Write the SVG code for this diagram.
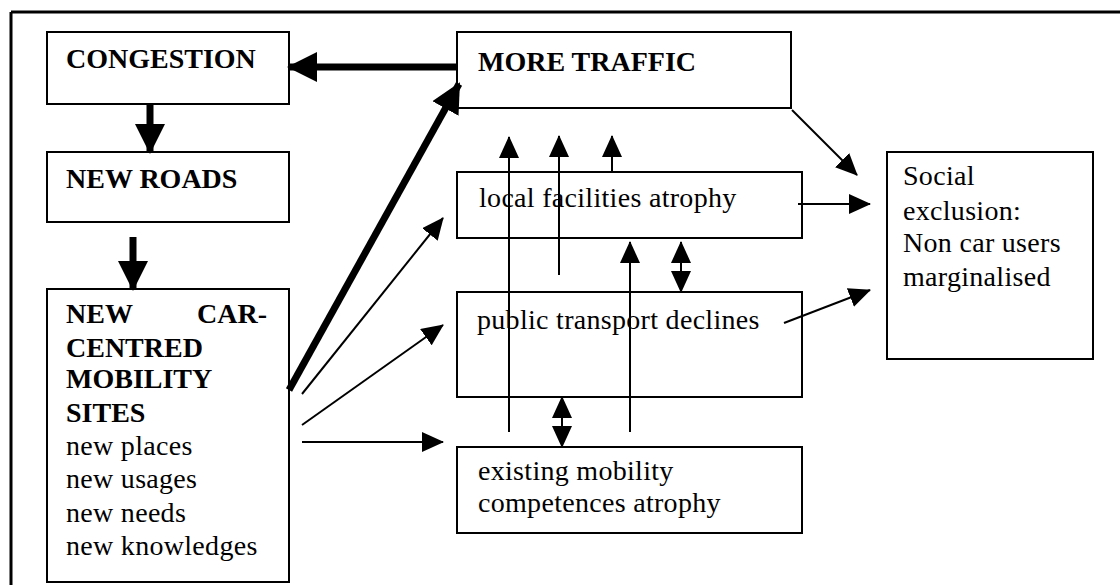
<svg xmlns="http://www.w3.org/2000/svg" width="1120" height="585" viewBox="0 0 1120 585">
  <style>
    .box { fill: #ffffff; stroke: #000000; stroke-width: 2; }
    .b { font-family: "Liberation Serif", "Times New Roman", serif; font-weight: bold; font-size: 28px; fill: #000000; }
    .r { font-family: "Liberation Serif", "Times New Roman", serif; font-size: 28px; letter-spacing: 0.3px; fill: #000000; }
    .thick { stroke: #000000; stroke-width: 7; fill: none; marker-end: url(#bigHead); }
    .thin { stroke: #000000; stroke-width: 2; fill: none; marker-end: url(#head); }
    .dbl { stroke: #000000; stroke-width: 2; fill: none; marker-start: url(#head); marker-end: url(#head); }
  </style>
  <defs>
    <marker id="head" viewBox="0 0 22 20" refX="21" refY="10" markerWidth="22" markerHeight="20" markerUnits="userSpaceOnUse" orient="auto-start-reverse">
      <path d="M0,0 L22,10 L0,20 z" fill="#000000"/>
    </marker>
    <marker id="bigHead" viewBox="0 0 30 30" refX="28" refY="15" markerWidth="30" markerHeight="30" markerUnits="userSpaceOnUse" orient="auto">
      <path d="M0,0 L30,15 L0,30 z" fill="#000000"/>
    </marker>
  </defs>
  <rect x="0" y="0" width="1120" height="585" fill="#ffffff"/>
  <g id="frame">
    <line x1="11" y1="12" x2="1120" y2="12" stroke="#000000" stroke-width="3"/>
    <line x1="11" y1="12" x2="11" y2="585" stroke="#000000" stroke-width="3"/>
  </g>

  <g id="congestion">
    <rect class="box" x="47" y="32" width="242" height="72"/>
    <text class="b" x="66" y="68">CONGESTION</text>
  </g>
  <g id="new-roads">
    <rect class="box" x="47" y="152" width="242" height="70"/>
    <text class="b" x="66" y="188">NEW ROADS</text>
  </g>
  <g id="new-car-centred">
    <rect class="box" x="47" y="289" width="242" height="293"/>
    <text class="b" x="66" y="323">NEW</text>
    <text class="b" x="267" y="323" text-anchor="end">CAR-</text>
    <text class="b" x="66" y="357">CENTRED</text>
    <text class="b" x="66" y="388">MOBILITY</text>
    <text class="b" x="66" y="422">SITES</text>
    <text class="r" x="66" y="455">new places</text>
    <text class="r" x="66" y="488">new usages</text>
    <text class="r" x="66" y="522">new needs</text>
    <text class="r" x="66" y="555">new knowledges</text>
  </g>
  <g id="more-traffic">
    <rect class="box" x="457" y="32" width="334" height="76"/>
    <text class="b" x="478" y="71">MORE TRAFFIC</text>
  </g>
  <g id="local-facilities">
    <rect class="box" x="457" y="172" width="345" height="66"/>
    <text class="r" x="479" y="207">local facilities atrophy</text>
  </g>
  <g id="public-transport">
    <rect class="box" x="457" y="292" width="345" height="105"/>
    <text class="r" x="477" y="329">public transport declines</text>
  </g>
  <g id="existing-mobility">
    <rect class="box" x="457" y="447" width="345" height="86"/>
    <text class="r" x="478" y="480">existing mobility</text>
    <text class="r" x="478" y="512">competences atrophy</text>
  </g>
  <g id="social-exclusion">
    <rect class="box" x="887" y="152" width="206" height="207"/>
    <text class="r" x="903" y="185">Social</text>
    <text class="r" x="903" y="220">exclusion:</text>
    <text class="r" x="903" y="252">Non car users</text>
    <text class="r" x="903" y="286">marginalised</text>
  </g>

  <g id="connectors">
    <line class="thick" x1="457" y1="67" x2="289" y2="67"/>
    <line class="thick" x1="150" y1="104" x2="150" y2="152"/>
    <line class="thick" x1="133" y1="237" x2="133" y2="289"/>
    <line class="thick" x1="289" y1="390" x2="459" y2="84"/>
    <line class="thin" x1="302" y1="394" x2="443" y2="218"/>
    <line class="thin" x1="302" y1="425" x2="443" y2="325"/>
    <line class="thin" x1="302" y1="442" x2="443" y2="442"/>
    <line class="thin" x1="509" y1="432" x2="509" y2="137"/>
    <line class="thin" x1="559" y1="275" x2="559" y2="136"/>
    <line class="thin" x1="612" y1="172" x2="612" y2="136"/>
    <line class="thin" x1="630" y1="432" x2="630" y2="242"/>
    <line class="dbl" x1="681" y1="242" x2="681" y2="292"/>
    <line class="dbl" x1="562" y1="397" x2="562" y2="447"/>
    <line class="thin" x1="792" y1="110" x2="857" y2="175"/>
    <line class="thin" x1="798" y1="204" x2="870" y2="204"/>
    <line class="thin" x1="784" y1="323" x2="870" y2="290"/>
  </g>
</svg>
